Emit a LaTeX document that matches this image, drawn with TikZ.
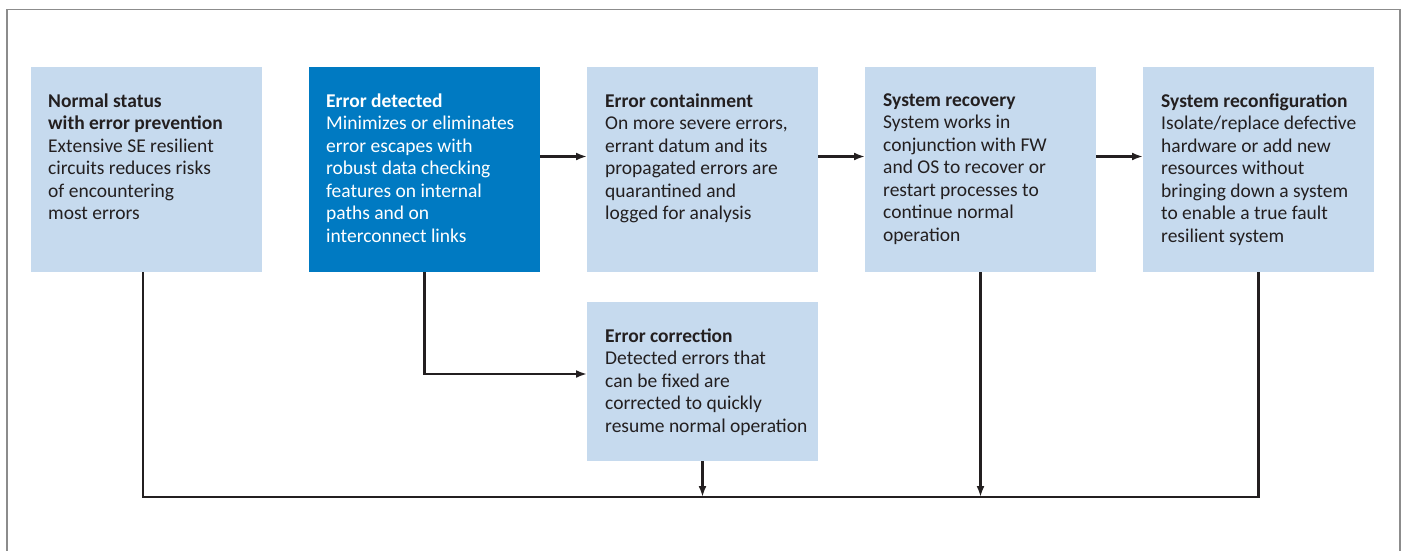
\documentclass[tikz,border=0pt]{standalone}
\usepackage{fontspec}
\setmainfont{Carlito}
\usetikzlibrary{arrows.meta,calc}
\definecolor{lightbox}{RGB}{198,218,238}
\definecolor{darkbox}{RGB}{0,122,194}
\definecolor{ink}{RGB}{35,31,32}
\definecolor{framegray}{RGB}{140,140,140}
\begin{document}
\begin{tikzpicture}[x=1pt,y=-1pt,
  box/.style={rectangle, fill=lightbox, minimum width=231pt, minimum height=205pt, anchor=north west, inner sep=0pt, outer sep=0pt},
  txt/.style={anchor=north west, align=left, inner sep=0pt, font=\fontsize{19.5}{22.5}\selectfont, text=ink},
  conn/.style={draw=ink, line width=2.2pt},
  arr/.style={conn, -{Latex[length=11pt,width=8pt]}}]
\useasboundingbox (0,0) rectangle (1403,550);
\clip (0,0) rectangle (1403,550);
\draw[framegray, line width=1.5pt] (7,600) -- (7,9.5) -- (1400,9.5) -- (1400,600);
% boxes
\node[box] (b1) at (31,67) {};
\node[box, fill=darkbox] (b2) at (309,67) {};
\node[box] (b3) at (587,67) {};
\node[box] (b4) at (865,67) {};
\node[box] (b5) at (1143,67) {};
\node[box, minimum height=159pt] (corr) at (587,302) {};
% texts
\node[txt] (t1) at ($(b1.north west)+(17,26.5)$) {\textbf{Normal status}\\\textbf{with error prevention}\\Extensive SE resilient\\circuits reduces risks\\of encountering\\most errors};
\node[txt, text=white] (t2) at ($(b2.north west)+(17,26.5)$) {\textbf{Error detected}\\Minimizes or eliminates\\error escapes with\\robust data checking\\features on internal\\paths and on\\interconnect links};
\node[txt] (t3) at ($(b3.north west)+(18,26.5)$) {\textbf{Error containment}\\On more severe errors,\\errant datum and its\\propagated errors are\\quarantined and\\logged for analysis};
\node[txt] (t4) at ($(b4.north west)+(18,26.5)$) {\textbf{System recovery}\\System works in\\conjunction with FW\\and OS to recover or\\restart processes to\\continue normal\\operation};
\node[txt] (t5) at ($(b5.north west)+(18,26.5)$) {\textbf{System reconfiguration}\\Isolate/replace defective\\hardware or add new\\resources without\\bringing down a system\\to enable a true fault\\resilient system};
\node[txt] (t6) at ($(corr.north west)+(18,26.5)$) {\textbf{Error correction}\\Detected errors that\\can be fixed are\\corrected to quickly\\resume normal operation};
% connectors
\coordinate (bus) at (0,497);
\draw[conn] ($(b1.south west)+(112,0)$) |- (b5.south |- bus) -- (b5.south);
\draw[arr] (b2.south) |- ($(corr.north west)+(0,72)$);
\draw[arr] (corr.south) -- (corr.south |- bus);
\draw[arr] (b4.south) -- (b4.south |- bus);
\draw[arr] ($(b2.east)+(0,-13)$) -- ($(b3.west)+(0,-13)$);
\draw[arr] ($(b3.east)+(0,-13)$) -- ($(b4.west)+(0,-13)$);
\draw[arr] ($(b4.east)+(0,-13)$) -- ($(b5.west)+(0,-13)$);
\end{tikzpicture}
\end{document}
